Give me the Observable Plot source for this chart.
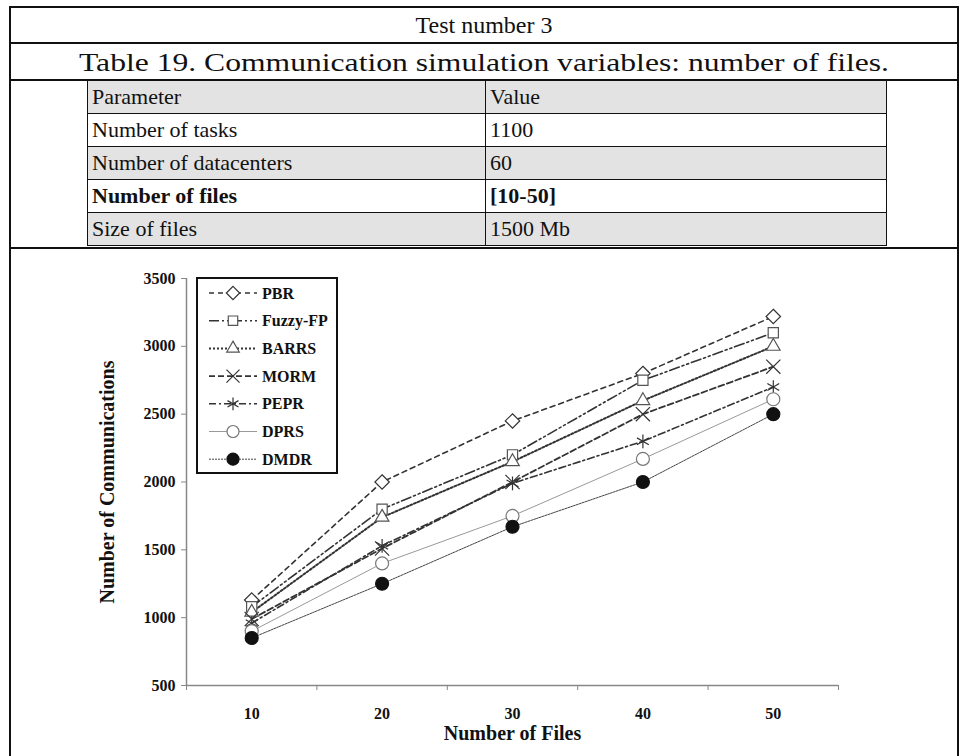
<!DOCTYPE html>
<html>
<head>
<meta charset="utf-8">
<script src="https://cdn.jsdelivr.net/npm/d3@7"></script>
<script src="https://cdn.jsdelivr.net/npm/@observablehq/plot@0.6"></script>
<style>
  html, body { margin: 0; padding: 0; background: #fff; }
  #page { position: relative; width: 968px; height: 756px; overflow: hidden; font-family: "Liberation Serif", "Times New Roman", serif; color: #111; }
  .hline { position: absolute; background: #111; }
  .vline { position: absolute; background: #111; }
  svg.cap { position: absolute; left: 11px; }
  table.params { position: absolute; left: 87px; top: 80px; width: 800px; border-collapse: collapse; font-size: 22px; }
  table.params td { border: 1.5px solid #111; height: 32px; padding: 0 4px; line-height: 32px; }
  table.params tr.g td { background: #e3e3e3; }
  table.params td.c1 { width: 389px; }
  #chart { position: absolute; left: 0; top: 249px; }
  #legend { position: absolute; left: 196px; top: 277px; }
</style>
</head>
<body>
<div id="page">
  <div class="hline" style="left:9px; top:6px; width:950px; height:2px;"></div>
  <div class="vline" style="left:9px; top:6px; width:2px; height:750px;"></div>
  <div class="vline" style="left:957px; top:6px; width:2px; height:750px;"></div>
  <div class="hline" style="left:9px; top:42px; width:950px; height:2px;"></div>
  <div class="hline" style="left:9px; top:79px; width:950px; height:2px;"></div>
  <div class="hline" style="left:9px; top:247px; width:950px; height:2px;"></div>
  <svg class="cap" id="cap1" width="946" height="34" style="top:8px;"></svg>
  <svg class="cap" id="cap2" width="946" height="35" style="top:44px;"></svg>
  <table class="params" id="params"></table>
  <div id="chart"></div>
  <div id="legend"></div>
</div>
<script>
// ---- text / table data ----
const titleText = "Test number 3";
const captionText = "Table 19. Communication simulation variables: number of files.";
const paramNames = ["Parameter", "Number of tasks", "Number of datacenters", "Number of files", "Size of files"];
const paramValues = ["Value", "1100", "60", "[10-50]", "1500 Mb"];
const boldRow = "Number of files";

// ---- chart data ----
const files = [10, 20, 30, 40, 50];
const seriesNames = ["PBR", "Fuzzy-FP", "BARRS", "MORM", "PEPR", "DPRS", "DMDR"];
const PBR     = [1130, 2000, 2450, 2800, 3220];
const FuzzyFP = [1080, 1800, 2200, 2750, 3100];
const BARRS   = [1040, 1740, 2150, 2600, 3000];
const MORM    = [990, 1510, 2000, 2500, 2850];
const PEPR    = [960, 1530, 1990, 2300, 2700];
const DPRS    = [900, 1400, 1750, 2170, 2610];
const DMDR    = [850, 1250, 1670, 2000, 2500];
const yTicks = [500, 1000, 1500, 2000, 2500, 3000, 3500];
const xLabel = "Number of Files";
const yLabel = "Number of Communications";

const seriesValues = [PBR, FuzzyFP, BARRS, MORM, PEPR, DPRS, DMDR];

// ---- styles (not data) ----
const styles = {
  "PBR":      {dash: "5,4",          w: 1.6, stroke: "#333", mark: "#333", symbol: "diamond2",  d3sym: d3.symbolDiamond2,  fill: "white", r: 6.5},
  "Fuzzy-FP": {dash: "10,3,2,3,2,3", w: 1.6, stroke: "#333", mark: "#555", symbol: "square2",   d3sym: d3.symbolSquare2,   fill: "white", r: 6.5},
  "BARRS":    {dash: "2,2",          w: 2,   stroke: "#333", mark: "#555", symbol: "triangle2", d3sym: d3.symbolTriangle2, fill: "white", r: 6.5},
  "MORM":     {dash: "6,3",          w: 1.8, stroke: "#333", mark: "#333", symbol: "times",     d3sym: d3.symbolTimes,     fill: "none",  r: 6.5},
  "PEPR":     {dash: "7,3,2,3",      w: 1.6, stroke: "#333", mark: "#333", symbol: "asterisk",  d3sym: d3.symbolAsterisk,  fill: "none",  r: 6.5},
  "DPRS":     {dash: null,           w: 1,   stroke: "#999", mark: "#777", symbol: "circle",    d3sym: d3.symbolCircle,    fill: "white", r: 6.5},
  "DMDR":     {dash: "2,1",          w: 1,   stroke: "#444", mark: "#111", symbol: "circle",    d3sym: d3.symbolCircle,    fill: "#111",  r: 6.5}
};

// captions (real text; the caption is stretched across the row as in the scan)
function caption(id, text, size, len) {
  const s = d3.select("#" + id);
  const t = s.append("text").attr("x", 473).attr("y", +s.attr("height") / 2).attr("dy", "0.35em")
    .attr("text-anchor", "middle").attr("font-family", "'Liberation Serif', serif")
    .attr("font-size", size).attr("fill", "#111").text(text);
  if (len) t.attr("textLength", len).attr("lengthAdjust", "spacingAndGlyphs");
}
caption("cap1", titleText, 24, null);
caption("cap2", captionText, 26, 810);

// build table
const tbl = document.getElementById("params");
paramNames.forEach((p, i) => {
  const tr = document.createElement("tr");
  if (i % 2 === 0) tr.className = "g";
  const a = document.createElement("td"); a.className = "c1"; a.textContent = p;
  const b = document.createElement("td"); b.textContent = paramValues[i];
  if (p === boldRow) { a.style.fontWeight = "bold"; b.style.fontWeight = "bold"; }
  tr.appendChild(a); tr.appendChild(b); tbl.appendChild(tr);
});

// long data
const rows = seriesNames.flatMap((s, i) => files.map((f, j) => ({series: s, files: f, value: seriesValues[i][j]})));

const lineMarks = seriesNames.map(s => Plot.line(rows.filter(d => d.series === s), {
  x: "files", y: "value", stroke: styles[s].stroke, strokeWidth: styles[s].w,
  strokeDasharray: styles[s].dash || undefined
}));
const dotMarks = seriesNames.map(s => Plot.dot(rows.filter(d => d.series === s), {
  x: "files", y: "value", symbol: () => styles[s].symbol, r: styles[s].r,
  stroke: styles[s].mark, fill: styles[s].fill, strokeWidth: 1.2
}));

const chart = Plot.plot({
  width: 968, height: 507,
  marginLeft: 186, marginRight: 130, marginTop: 29, marginBottom: 71,
  style: {fontFamily: "'Liberation Serif', serif", fontWeight: "bold", fontSize: "16px", color: "#111", background: "transparent"},
  x: {type: "linear", domain: [5, 55]},
  y: {domain: [500, 3500]},
  symbol: {type: "identity"},
  marks: [
    Plot.ruleY([500], {stroke: "#888", strokeWidth: 1.5}),
    Plot.ruleX([5], {stroke: "#888", strokeWidth: 1.5}),
    Plot.axisY({ticks: yTicks, tickSize: 5, tickPadding: 6, stroke: "#888", label: null, tickFormat: d => String(d)}),
    Plot.axisX({ticks: [5, 15, 25, 35, 45, 55], tickSize: 5, stroke: "#888", tickFormat: () => "", label: null}),
    Plot.axisX({ticks: files, tickSize: 0, tickPadding: 22, label: null}),
    ...lineMarks,
    ...dotMarks,
    Plot.text([yLabel], {frameAnchor: "left", dx: -79, rotate: -90, text: d => d, fontSize: 20, fontWeight: "bold", textAnchor: "middle"}),
    Plot.text([xLabel], {frameAnchor: "bottom", dy: 54, text: d => d, fontSize: 20, fontWeight: "bold"})
  ]
});
document.getElementById("chart").appendChild(chart);

// legend
const lg = d3.select("#legend").append("svg").attr("width", 143).attr("height", 198)
  .style("font-family", "'Liberation Serif', serif");
lg.append("rect").attr("x", 1).attr("y", 1).attr("width", 140).attr("height", 195)
  .attr("fill", "white").attr("stroke", "#111").attr("stroke-width", 2);
seriesNames.forEach((s, i) => {
  const st = styles[s];
  const y = 16 + i * 27.7;
  lg.append("line").attr("x1", 13).attr("x2", 61).attr("y1", y).attr("y2", y)
    .attr("stroke", st.stroke).attr("stroke-width", st.w)
    .attr("stroke-dasharray", st.dash);
  lg.append("path").attr("transform", `translate(37,${y})`)
    .attr("d", d3.symbol(st.d3sym, Math.PI * 6 * 6)())
    .attr("fill", st.fill === "none" ? "white" : st.fill)
    .attr("stroke", st.mark).attr("stroke-width", 1.2);
  lg.append("text").attr("x", 66).attr("y", y).attr("dy", "0.35em")
    .attr("font-size", 16).attr("font-weight", "bold").attr("fill", "#111").text(s);
});
</script>
</body>
</html>
